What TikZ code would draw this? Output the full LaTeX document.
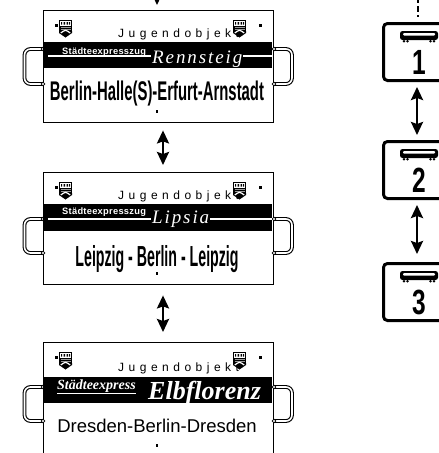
\documentclass[tikz,border=0pt]{standalone}
\usepackage{fontspec}
\usepackage{tikz}
\usetikzlibrary{arrows.meta, positioning}
\newfontfamily\sansfam{Liberation Sans}
\newfontfamily\spacedfam[LetterSpace=37.5]{Liberation Sans}
\newfontfamily\servicefam[LetterSpace=3]{Liberation Sans}
\newfontfamily\namefam[LetterSpace=10]{Liberation Serif}
\newfontfamily\serifam{Liberation Serif}
\tikzset{
    signbox/.style={
        draw,
        line width=1.4pt,
        inner sep=0pt,
        minimum width=229.6pt,
    },
    numbox/.style={
        draw,
        line width=3pt,
        rounded corners=4pt,
        inner sep=0pt,
        minimum width=71pt,
        minimum height=57pt,
    },
    handle/.style={
        rounded corners=6pt,
        line width=1.1pt,
        double=white,
        double distance=1.6pt,
    },
    knob/.style={fill=white, draw=black, line width=0.7pt},
    jugend/.style={anchor=base west, inner sep=0pt, font=\spacedfam\fontsize{12}{14}\selectfont},
    service/.style={anchor=base west, inner sep=0pt, text=white, font=\servicefam\bfseries\fontsize{9.3}{10}\selectfont},
    trainname/.style={anchor=base west, inner sep=1pt, fill=black, text=white, font=\namefam\itshape\fontsize{19}{21}\selectfont},
    route/.style={anchor=base, inner sep=0pt, font=\sansfam\bfseries\fontsize{#1}{#1}\selectfont},
    digit/.style={anchor=base, inner sep=0pt, xscale=.7, font=\sansfam\bfseries\fontsize{35}{35}\selectfont},
    link/.style={<->, line width=2.5pt},
    emblem/.pic={
        \fill (0,0) rectangle (13,11);
        \fill (0,11) -- (13,11) -- (13,13) -- (6.5,17.5) -- (0,13) -- cycle;
        \fill[white] (1,1) rectangle (12,5.5);
        \fill (2,2) rectangle (3,4.5) (4.5,2) rectangle (6,4.5) (7.5,2) rectangle (9,4.5) (10,2) rectangle (11,4.5);
        \draw[white!60!black, line width=.4pt] (1.5,7) -- (11.5,7) (1.5,8.8) -- (11.5,8.8);
        \draw[white, line width=1.2pt] (1.8,13) .. controls (6.5,9.5) .. (11.2,13);
    },
    bus/.pic={
        \fill[rounded corners=2.5pt] (-19,0) rectangle (19,9);
        \fill[white, rounded corners=1pt] (-16,2) rectangle (16,4.5);
        \fill (-15,10.3) circle (1.4) (-11.5,10.3) circle (1.4) (11.5,10.3) circle (1.4) (15,10.3) circle (1.4);
    },
}
\begin{document}
\begin{tikzpicture}[x=1pt, y=-1pt, >={Stealth[length=13pt,width=12pt,inset=2pt]}]
    \useasboundingbox (0,0) rectangle (439,453);
    \clip (0,0) rectangle (439,453);

    % the three destination signs
    \foreach \s/\t/\bt/\bb/\ha/\hb/\j/\h in {1/10/42/68/49/84/37/112, 2/172/204/231/219/253/199/112, 3/342/377/403/387/421/371/130} {
        \draw[handle] (43,\ha) -- (24.5,\ha) -- (24.5,\hb) -- (43,\hb);
        \draw[handle] (274,\ha) -- (292,\ha) -- (292,\hb) -- (274,\hb);
        \node[signbox, minimum height=\h, anchor=north west, fill=white] (sign\s) at (43,\t) {};
        \foreach \x in {43,274} \foreach \y in {\ha,\hb} \draw[knob] (\x,\y) circle (1.8);
        \fill (43,\bt) rectangle (272,\bb);
        \node[jugend] (jugend\s) at (118,\j) {Jugendobjekt};
        \fill (55,\t+14) rectangle +(3,3);
        \fill (259,\t+14) rectangle +(3,3);
        \pic at (59,\t+10) {emblem};
        \pic at (233,\t+10) {emblem};
    }

    % sign 1
    \draw[white, line width=1.3pt] (48,56) -- (272,56);
    \node[service] (svc1) at (62,54) {Städteexpresszug};
    \node[trainname] (name1) at (151,63) {Rennsteig};
    \node[route=27, xscale=.551] (route1) at (157,100.5) {Berlin-Halle(S)-Erfurt-Arnstadt};

    % sign 2
    \draw[white, line width=1.3pt] (48,219) -- (272,219);
    \node[service] (svc2) at (62,214) {Städteexpresszug};
    \node[trainname] (name2) at (151,223) {Lipsia};
    \node[route=29, xscale=.489] (route2) at (157,266) {Leipzig - Berlin - Leipzig};

    % sign 3
    \node[anchor=base west, inner sep=0pt, text=white, font=\serifam\bfseries\itshape\fontsize{14}{16}\selectfont] (svc3) at (57,389) {\underline{Städteexpress}};
    \node[anchor=base west, inner sep=0pt, text=white, font=\serifam\bfseries\itshape\fontsize{26}{28}\selectfont] (name3) at (148,399) {Elbflorenz};
    \node[anchor=base, inner sep=0pt, font=\sansfam\fontsize{18.5}{20}\selectfont] (route3) at (157,432) {Dresden-Berlin-Dresden};

    \foreach \y in {110,272,444} \fill (156,\y) rectangle +(2,3);

    \coordinate (feed) at (157,-20);
    \draw[->, line width=2.5pt, shorten >=5pt] (feed) -- (feed |- sign1.north);
    \draw[link, shorten <=7pt, shorten >=7pt] ([xshift=4.5pt]sign1.south) -- ([xshift=4.5pt]sign2.north);
    \draw[link, shorten <=10pt, shorten >=10pt] ([xshift=4.5pt]sign2.south) -- ([xshift=4.5pt]sign3.north);

    % the three coaches
    \node[numbox] (box1) at (419,52) {};
    \node[numbox] (box2) at (419,170) {};
    \node[numbox] (box3) at (419,292) {};
    \foreach \n in {1,2,3} {
        \pic at ([yshift=-9pt]box\n.north) {bus};
        \node[digit] (num\n) at ([yshift=-52pt]box\n.north) {\n};
    }

    \coordinate (top) at (418,-3);
    \draw[line width=2.4pt, dash pattern=on 6pt off 3pt, shorten >=5pt] (top) -- (top |- box1.north);
    \draw[link, shorten <=5pt, shorten >=5pt] ([xshift=-2pt]box1.south) -- ([xshift=-2pt]box2.north);
    \draw[link, shorten <=5pt, shorten >=8pt] ([xshift=-2pt]box2.south) -- ([xshift=-2pt]box3.north);
\end{tikzpicture}
\end{document}
